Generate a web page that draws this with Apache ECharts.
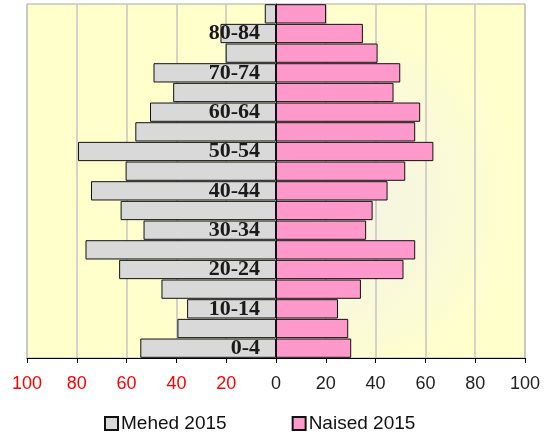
<!DOCTYPE html>
<html>
<head>
<meta charset="utf-8">
<script src="https://cdn.jsdelivr.net/npm/echarts@6/dist/echarts.min.js"></script>
<style>html,body{margin:0;padding:0;background:#fff}#c{width:546px;height:438px}</style>
</head>
<body>
<div id="c"></div>
<script>
var categories = ['0-4','5-9','10-14','15-19','20-24','25-29','30-34','35-39','40-44','45-49','50-54','55-59','60-64','65-69','70-74','75-79','80-84','85+'];
var males = [54.5, 39.6, 35.7, 46.0, 63.0, 76.5, 53.2, 62.4, 74.3, 60.4, 79.5, 56.5, 50.6, 41.3, 49.2, 20.2, 22.3, 4.5];
var females = [30.2, 29.0, 24.9, 34.1, 51.2, 55.9, 36.2, 38.8, 44.8, 51.9, 63.2, 55.9, 57.9, 47.2, 49.9, 40.8, 34.9, 20.1];
var xTicks = [-100, -80, -60, -40, -20, 0, 20, 40, 60, 80, 100];

var gridLeft = 27, gridRight = 21, W = 546;
var chart = echarts.init(document.getElementById('c'), null, {renderer: 'canvas'});
chart.setOption({
  animation: false,
  backgroundColor: '#ffffff',
  grid: {
    left: gridLeft, right: gridRight, top: 4, bottom: 80,
    containLabel: false,
    outerBoundsMode: 'none',
    show: true,
    borderColor: '#A8A8A8',
    borderWidth: 1,
    backgroundColor: {
      type: 'radial', x: 0.6, y: 0.55, r: 0.55,
      colorStops: [
        {offset: 0, color: '#F3F3E6'},
        {offset: 0.5, color: '#F8F8DC'},
        {offset: 1, color: '#FFFFCC'}
      ]
    }
  },
  legend: {
    left: 99, top: 409,
    itemWidth: 13, itemHeight: 13, itemGap: 65,
    icon: 'rect',
    textStyle: {fontFamily: 'Liberation Sans', fontSize: 19, color: '#111', padding: [0, 0, 0, -2]},
    data: ['Mehed 2015', 'Naised 2015']
  },
  xAxis: {
    type: 'value', min: xTicks[0], max: xTicks[xTicks.length - 1], interval: 20,
    axisLine: {show: true, onZero: false, lineStyle: {color: '#000', width: 1}},
    axisTick: {show: true, length: 5, lineStyle: {color: '#000'}},
    splitLine: {show: true, lineStyle: {color: '#C4C4C4', width: 1.5}},
    axisLabel: {
      margin: 17,
      fontFamily: 'Liberation Sans', fontSize: 18,
      formatter: function (v) { return String(Math.abs(v)); },
      color: function (v) { return Number(v) < 0 ? '#FF0000' : '#222222'; }
    }
  },
  yAxis: {
    type: 'category', data: categories, z: 10,
    position: 'left',
    offset: -((W - gridLeft - gridRight) / 2),
    axisLine: {show: true, onZero: false, lineStyle: {color: '#111', width: 1}},
    axisTick: {show: false},
    splitLine: {show: false},
    axisLabel: {
      interval: 1, margin: 16,
      fontFamily: 'Liberation Serif', fontWeight: 'bold', fontSize: 22, color: '#1a1a1a'
    }
  },
  series: [
    {
      name: 'Mehed 2015', type: 'bar', barGap: '-100%', barCategoryGap: '2%',
      itemStyle: {color: '#D9D9D9', borderColor: '#111', borderWidth: 1},
      data: males.map(function (v) { return -v; })
    },
    {
      name: 'Naised 2015', type: 'bar', barGap: '-100%', barCategoryGap: '2%',
      itemStyle: {color: '#FF99CC', borderColor: '#111', borderWidth: 1},
      data: females
    }
  ]
});
</script>
</body>
</html>
